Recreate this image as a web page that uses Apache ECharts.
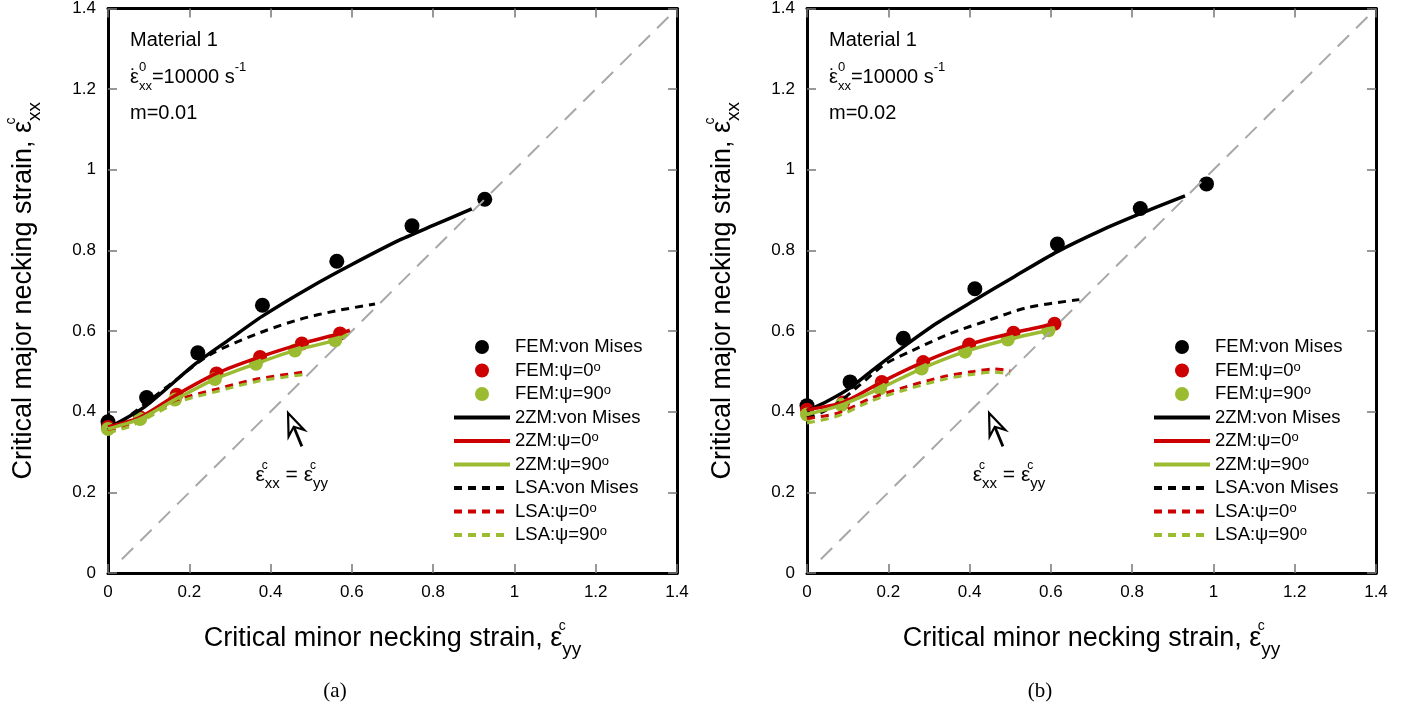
<!DOCTYPE html>
<html>
<head>
<meta charset="utf-8">
<script src="https://cdn.jsdelivr.net/npm/echarts@6/dist/echarts.min.js"></script>
<style>html,body{margin:0;padding:0;background:#fff;}#c{width:1413px;height:715px;}</style>
</head>
<body>
<div id="c"></div>
<script>
// ---------------- data ----------------
const axisMin = 0, axisMax = 1.4, tickStep = 0.2;
const seriesNames = ['FEM:von Mises','FEM:ψ=0°','FEM:ψ=90°','2ZM:von Mises','2ZM:ψ=0°','2ZM:ψ=90°','LSA:von Mises','LSA:ψ=0°','LSA:ψ=90°'];
const panelInfo = [['Material 1','10000','0.01','(a)'],['Material 1','10000','0.02','(b)']];

// panel (a) m=0.01
const femVM_a  = [[0,0.375],[0.095,0.435],[0.221,0.546],[0.38,0.664],[0.563,0.773],[0.748,0.861],[0.927,0.927]];
const fem0_a   = [[0,0.362],[0.079,0.386],[0.169,0.442],[0.267,0.495],[0.374,0.536],[0.477,0.569],[0.571,0.594]];
const fem90_a  = [[0,0.357],[0.079,0.382],[0.165,0.430],[0.263,0.481],[0.364,0.519],[0.46,0.552],[0.559,0.577]];
const zmVM_a   = [[0.01,0.365],[0.09,0.412],[0.214,0.518],[0.3,0.58],[0.38,0.637],[0.5,0.71],[0.6,0.765],[0.718,0.826],[0.8,0.862],[0.895,0.903]];
const zm0_a    = [[0,0.362],[0.079,0.386],[0.169,0.442],[0.267,0.495],[0.374,0.536],[0.477,0.569],[0.571,0.594],[0.595,0.602]];
const zm90_a   = [[0,0.357],[0.079,0.382],[0.165,0.430],[0.263,0.481],[0.364,0.519],[0.46,0.552],[0.559,0.577],[0.59,0.592]];
const lsaVM_a  = [[0,0.355],[0.04,0.38],[0.13,0.45],[0.165,0.477],[0.25,0.541],[0.374,0.596],[0.472,0.629],[0.56,0.65],[0.657,0.667]];
const lsa0_a   = [[0,0.352],[0.05,0.368],[0.08,0.382],[0.177,0.431],[0.267,0.456],[0.366,0.481],[0.48,0.498]];
const lsa90_a  = [[0,0.348],[0.05,0.362],[0.08,0.376],[0.177,0.425],[0.267,0.450],[0.366,0.475],[0.48,0.492]];

// panel (b) m=0.02
const femVM_b  = [[0,0.415],[0.106,0.474],[0.237,0.582],[0.413,0.705],[0.616,0.816],[0.82,0.904],[0.983,0.965]];
const fem0_b   = [[0,0.405],[0.089,0.423],[0.184,0.474],[0.286,0.523],[0.399,0.567],[0.508,0.596],[0.609,0.618]];
const fem90_b  = [[0,0.393],[0.085,0.417],[0.18,0.458],[0.282,0.507],[0.389,0.549],[0.494,0.579],[0.594,0.602]];
const zmVM_b   = [[0,0.402],[0.052,0.427],[0.106,0.459],[0.17,0.51],[0.237,0.561],[0.32,0.62],[0.413,0.677],[0.51,0.735],[0.616,0.797],[0.72,0.848],[0.82,0.891],[0.93,0.935]];
const zm0_b    = [[0,0.405],[0.089,0.423],[0.184,0.474],[0.286,0.523],[0.399,0.567],[0.508,0.596],[0.609,0.618],[0.623,0.621]];
const zm90_b   = [[0,0.393],[0.085,0.417],[0.18,0.458],[0.282,0.507],[0.389,0.549],[0.494,0.579],[0.594,0.602],[0.61,0.607]];
const lsaVM_b  = [[0,0.385],[0.036,0.398],[0.077,0.423],[0.118,0.456],[0.192,0.518],[0.258,0.551],[0.348,0.592],[0.45,0.628],[0.541,0.658],[0.67,0.678]];
const lsa0_b   = [[0,0.383],[0.077,0.397],[0.159,0.434],[0.241,0.461],[0.34,0.488],[0.41,0.5],[0.46,0.506],[0.5,0.502]];
const lsa90_b  = [[0,0.372],[0.077,0.39],[0.159,0.427],[0.241,0.454],[0.34,0.481],[0.41,0.493],[0.46,0.498],[0.5,0.494]];

const diagonal = [[0.034,0.034],[1.38,1.38]];
// arrow annotation: [tailX, tailY, headX, headY, labelX, labelY]
const arrow_a = [[0.477,0.314,0.443,0.397,0.452,0.242]];
const arrow_b = [[0.482,0.314,0.448,0.397,0.497,0.242]];

// ---------------- styles ----------------
const FONT = 'Liberation Sans, Arial, sans-serif';
const BLACK = '#000000', RED = '#cc0000', GREEN = '#9bbb30', GRAY = '#a8a8a8';

function axisNameStyle() {
  return {fontFamily: FONT, fontSize: 27, color: '#000', lineHeight: 40,
    rich: {c: {fontFamily: FONT, fontSize: 14, lineHeight: 12, verticalAlign: 'top', width: 0, color:'#000'},
           s: {fontFamily: FONT, fontSize: 19, lineHeight: 16, verticalAlign: 'bottom', color:'#000'}}};
}
function xAxis(gi, pos, withLabel) {
  return {
    type: 'value', gridIndex: gi, position: pos, min: axisMin, max: axisMax, interval: tickStep,
    axisLine: {show: true, onZero: false, lineStyle: {color: '#000', width: 3}},
    axisTick: {show: true, inside: true, length: 9, lineStyle: {color: '#777', width: 1.5}},
    axisLabel: {show: withLabel, fontFamily: FONT, fontSize: 17, color: '#000', margin: 11},
    splitLine: {show: false},
    name: withLabel ? 'Critical minor necking strain, ε{c|c}{s|yy}' : '',
    nameLocation: 'middle', nameGap: 46, nameTextStyle: axisNameStyle()
  };
}
function yAxis(gi, pos, withLabel) {
  return {
    type: 'value', gridIndex: gi, position: pos, min: axisMin, max: axisMax, interval: tickStep,
    axisLine: {show: true, onZero: false, lineStyle: {color: '#000', width: 3}},
    axisTick: {show: true, inside: true, length: 9, lineStyle: {color: '#777', width: 1.5}},
    axisLabel: {show: withLabel, fontFamily: FONT, fontSize: 17, color: '#000', margin: 12},
    splitLine: {show: false},
    name: withLabel ? 'Critical major necking strain, ε{c|c}{s|xx}' : '',
    nameLocation: 'middle', nameGap: 64, nameTextStyle: axisNameStyle()
  };
}

function renderArrow(params, api) {
  const t = api.coord([api.value(0), api.value(1)]);
  const h = api.coord([api.value(2), api.value(3)]);
  const l = api.coord([api.value(4), api.value(5)]);
  const dx = h[0] - t[0], dy = h[1] - t[1];
  const len = Math.hypot(dx, dy);
  const ux = dx / len, uy = dy / len, px = -uy, py = ux;
  const L = 22, W = 8.5, N = 7;
  const base = [h[0] - ux * L, h[1] - uy * L];
  const notch = [h[0] - ux * (L - N), h[1] - uy * (L - N)];
  return {
    type: 'group',
    children: [
      {type: 'line', shape: {x1: t[0], y1: t[1], x2: notch[0], y2: notch[1]}, style: {stroke: '#000', lineWidth: 2.8}},
      {type: 'polygon', shape: {points: [h, [base[0] + px * W, base[1] + py * W], notch, [base[0] - px * W, base[1] - py * W]]},
       style: {fill: '#fff', stroke: '#000', lineWidth: 2.2, lineJoin: 'miter'}},
      {type: 'text', x: l[0], y: l[1],
       style: {text: 'ε{c|c}{s|xx} = ε{c|c}{s|yy}', align: 'center', verticalAlign: 'middle',
               fontFamily: FONT, fontSize: 21, lineHeight: 32, fill: '#000',
               rich: {c: {fontFamily: FONT, fontSize: 12, lineHeight: 11, verticalAlign: 'top', width: 0, fill: '#000'},
                      s: {fontFamily: FONT, fontSize: 15, lineHeight: 13, verticalAlign: 'bottom', fill: '#000'}}}}
    ]
  };
}

function panelSeries(gi, d) {
  const xi = gi * 2, yi = gi * 2;
  const base = {xAxisIndex: xi, yAxisIndex: yi, animation: false, silent: true};
  const line = (name, data, color, dashed) => Object.assign({
    type: 'line', name, data, symbol: 'none', smooth: dashed ? 0.3 : 0.25,
    lineStyle: {color, width: dashed ? 3 : 3.5, type: dashed ? [8, 6] : 'solid'},
    itemStyle: {color}
  }, base);
  const scat = (name, data, color, size) => Object.assign({
    type: 'scatter', name, data, symbol: 'circle', symbolSize: size, itemStyle: {color, opacity: 1}
  }, base);
  return [
    Object.assign({type: 'line', name: 'diag', data: diagonal, symbol: 'none',
      lineStyle: {color: GRAY, width: 2, type: [16, 10]}}, base),
    line(seriesNames[3], d.zmVM, BLACK, false),
    line(seriesNames[6], d.lsaVM, BLACK, true),
    line(seriesNames[7], d.lsa0, RED, true),
    line(seriesNames[8], d.lsa90, GREEN, true),
    scat(seriesNames[0], d.femVM, BLACK, 15),
    line(seriesNames[4], d.zm0, RED, false),
    scat(seriesNames[1], d.fem0, RED, 14),
    line(seriesNames[5], d.zm90, GREEN, false),
    scat(seriesNames[2], d.fem90, GREEN, 14),
    Object.assign({type: 'custom', name: 'arrow', data: d.arrow, renderItem: renderArrow,
      encode: {x: [0, 2, 4], y: [1, 3, 5]}, clip: false, z: 5}, base)
  ];
}

function legendFor(left) {
  return {
    show: true, orient: 'vertical', left: left, top: 337, padding: 0, selectedMode: false,
    itemWidth: 56, itemHeight: 14, itemGap: 3.5,
    lineStyle: {width: 4},
    data: seriesNames.map((n, i) => i < 3 ? {name: n} : {name: n, itemStyle: {opacity: 0, color: 'rgba(0,0,0,0)', borderWidth: 0}}),
    formatter: n => n.replace('°', '{o|o}'),
    textStyle: {fontFamily: FONT, fontSize: 18.5, color: '#000', lineHeight: 20,
      rich: {o: {fontFamily: FONT, fontSize: 13, lineHeight: 9, verticalAlign: 'top', color: '#000'}}}
  };
}

function infoText(x, info) {
  return [
    {type: 'text', x: x, y: 40, style: {text: info[0], fontFamily: FONT, fontSize: 20, fill: '#000', verticalAlign: 'middle'}},
    {type: 'text', x: x, y: 77, style: {
      text: '{d|\u02D9}{e|ε}{p|0}{b|xx}=' + info[1] + ' s{q|-1}', fontFamily: FONT, fontSize: 20, fill: '#000',
      verticalAlign: 'middle', lineHeight: 32,
      rich: {d: {fontFamily: FONT, fontSize: 20, width: 0, fill: '#000'},
             e: {fontFamily: FONT, fontSize: 20, fill: '#000'},
             p: {fontFamily: FONT, fontSize: 13, lineHeight: 13, verticalAlign: 'top', width: 0, fill: '#000'},
             b: {fontFamily: FONT, fontSize: 13, lineHeight: 12, verticalAlign: 'bottom', fill: '#000'},
             q: {fontFamily: FONT, fontSize: 13, lineHeight: 13, verticalAlign: 'top', fill: '#000'}}}},
    {type: 'text', x: x, y: 113, style: {text: 'm=' + info[2], fontFamily: FONT, fontSize: 20, fill: '#000', verticalAlign: 'middle'}}
  ];
}

const chart = echarts.init(document.getElementById('c'), null, {renderer: 'canvas'});
chart.setOption({
  animation: false,
  backgroundColor: '#fff',
  grid: [
    {left: 108, top: 6, width: 569, height: 567, containLabel: false},
    {left: 807, top: 6, width: 569, height: 567, containLabel: false}
  ],
  xAxis: [xAxis(0, 'bottom', true), xAxis(0, 'top', false), xAxis(1, 'bottom', true), xAxis(1, 'top', false)],
  yAxis: [yAxis(0, 'left', true), yAxis(0, 'right', false), yAxis(1, 'left', true), yAxis(1, 'right', false)],
  legend: [legendFor(452), legendFor(1152)],
  series: [].concat(
    panelSeries(0, {femVM: femVM_a, fem0: fem0_a, fem90: fem90_a, zmVM: zmVM_a, zm0: zm0_a, zm90: zm90_a,
                    lsaVM: lsaVM_a, lsa0: lsa0_a, lsa90: lsa90_a, arrow: arrow_a}),
    panelSeries(1, {femVM: femVM_b, fem0: fem0_b, fem90: fem90_b, zmVM: zmVM_b, zm0: zm0_b, zm90: zm90_b,
                    lsaVM: lsaVM_b, lsa0: lsa0_b, lsa90: lsa90_b, arrow: arrow_b})
  ),
  graphic: [].concat(
    infoText(130, panelInfo[0]), infoText(829, panelInfo[1]),
    [{type: 'text', x: 335, y: 691, style: {text: panelInfo[0][3], fontFamily: 'Liberation Serif, DejaVu Serif, serif', fontSize: 21, fill: '#000', align: 'center', verticalAlign: 'middle'}},
     {type: 'text', x: 1040, y: 691, style: {text: panelInfo[1][3], fontFamily: 'Liberation Serif, DejaVu Serif, serif', fontSize: 21, fill: '#000', align: 'center', verticalAlign: 'middle'}}]
  )
});
</script>
</body>
</html>
